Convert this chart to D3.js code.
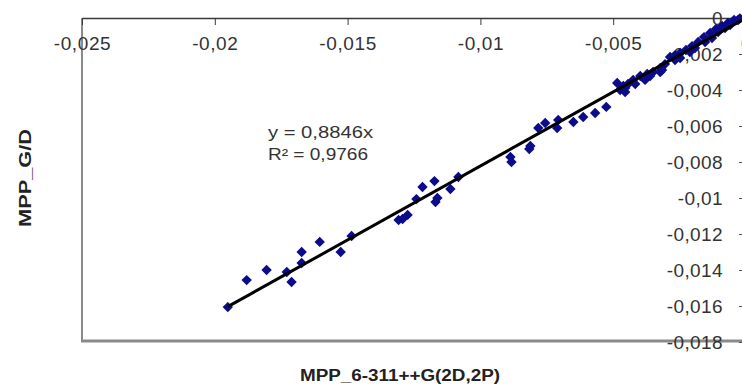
<!DOCTYPE html>
<html>
<head>
<meta charset="utf-8">
<script src="https://cdn.jsdelivr.net/npm/d3@7"></script>
<style>
  body { margin: 0; background: #fff; }
  svg { display: block; }
</style>
</head>
<body>
<svg></svg>
<script>
const width = 742;
const height = 388;

// values (x = MPP_6-311++G(2D,2P), y = MPP_G/D)
const xValues = [
  -0.01951, -0.01880, -0.01805, -0.01729, -0.01711, -0.01673, -0.01673, -0.01605, -0.01526, -0.01485,
  -0.01308, -0.01293, -0.01274, -0.01241, -0.01218, -0.01173, -0.01162, -0.01169, -0.01113, -0.01083,
  -0.00883, -0.00887, -0.00816, -0.00812, -0.00782, -0.00756, -0.00711, -0.00707, -0.00650, -0.00613,
  -0.00568, -0.00526, -0.00485, -0.00474, -0.00462, -0.00444, -0.00425, -0.00398, -0.00372, -0.00350,
  -0.00323, -0.00305, -0.00286, -0.00267, -0.00248, -0.00226, -0.00203, -0.00180, -0.00158, -0.00135,
  -0.00113, -0.00090, -0.00068, -0.00045, -0.00023, -0.00455, -0.00380, -0.00323, -0.00267, -0.00211,
  -0.00154, -0.00105, -0.00060, -0.00455, -0.00417, -0.00361, -0.00316, -0.00248, -0.00192, -0.00128,
  -0.00079, -0.00030
];
const yValues = [
  -0.01606, -0.01456, -0.01400, -0.01411, -0.01467, -0.01361, -0.01300, -0.01244, -0.01300, -0.01211,
  -0.01122, -0.01117, -0.01094, -0.01006, -0.00939, -0.00906, -0.01000, -0.01022, -0.00950, -0.00883,
  -0.00800, -0.00772, -0.00728, -0.00711, -0.00611, -0.00583, -0.00611, -0.00567, -0.00578, -0.00550,
  -0.00528, -0.00494, -0.00361, -0.00400, -0.00378, -0.00367, -0.00344, -0.00322, -0.00311, -0.00300,
  -0.00278, -0.00256, -0.00217, -0.00206, -0.00194, -0.00178, -0.00156, -0.00133, -0.00106, -0.00083,
  -0.00061, -0.00044, -0.00028, -0.00011, -0.00002, -0.00411, -0.00344, -0.00300, -0.00233, -0.00189,
  -0.00133, -0.00078, -0.00039, -0.00389, -0.00367, -0.00322, -0.00289, -0.00222, -0.00167, -0.00111,
  -0.00056, -0.00011
];

const xTicks = [-0.025, -0.02, -0.015, -0.01, -0.005, 0];
const yTicks = [0, -0.002, -0.004, -0.006, -0.008, -0.01, -0.012, -0.014, -0.016, -0.018];

// trendline as drawn in the picture (through the origin)
const trendSlopeDrawn = 0.822;
const trendRange = [-0.01951, 0];
const equationLines = ["y = 0,8846x", "R² = 0,9766"];

const xTitle = "MPP_6-311++G(2D,2P)";
const yTitle = "MPP_G/D";

const plot = { left: 82, top: 18, right: 746, bottom: 342 };

const x = d3.scaleLinear().domain([-0.025, 0]).range([plot.left, plot.right]);
const y = d3.scaleLinear().domain([-0.018, 0]).range([plot.bottom, plot.top]);

const fmt = d => d === 0 ? "0" : String(d).replace(".", ",");

const svg = d3.select('svg')
  .attr('width', width)
  .attr('height', height)
  .style('font-family', "'Liberation Sans', Arial, sans-serif");

svg.append('rect')
  .attr('width', width)
  .attr('height', height)
  .attr('fill', '#fff');

// frame: gray left and bottom edges
svg.append('line')
  .attr('x1', plot.left).attr('x2', plot.left)
  .attr('y1', plot.top).attr('y2', plot.bottom)
  .attr('stroke', '#8a8a8a').attr('stroke-width', 2);
svg.append('line')
  .attr('x1', plot.left - 1).attr('x2', width)
  .attr('y1', plot.bottom - 1).attr('y2', plot.bottom - 1)
  .attr('stroke', '#8a8a8a').attr('stroke-width', 3);

// x axis sits on top (y = 0), ticks pointing into the plot
const xAxis = svg.append('g')
  .attr('transform', `translate(0,${y(0)})`)
  .call(d3.axisBottom(x).tickValues(xTicks).tickSize(7).tickPadding(12).tickFormat(fmt).tickSizeOuter(0));
xAxis.select('.domain').attr('stroke', '#3a3a3a').attr('stroke-width', 1.5);
xAxis.selectAll('.tick line').attr('stroke', '#3a3a3a');
xAxis.selectAll('.tick text')
  .attr('font-size', 19)
  .attr('letter-spacing', 0.6)
  .attr('fill', '#333');

// y axis sits on the right (x = 0), labels to its left
const yAxis = svg.append('g')
  .attr('transform', `translate(${x(0)},0)`)
  .call(d3.axisLeft(y).tickValues(yTicks).tickSize(7).tickPadding(16).tickFormat(fmt).tickSizeOuter(0));
yAxis.select('.domain').attr('stroke', '#555').attr('stroke-width', 1.5);
yAxis.selectAll('.tick line').attr('stroke', '#555');
yAxis.selectAll('.tick text')
  .attr('font-size', 19)
  .attr('letter-spacing', 0.4)
  .attr('fill', '#333');

// data markers (diamonds)
const points = xValues.map((v, i) => ({ x: v, y: yValues[i] }));
svg.append('g')
  .selectAll('path')
  .data(points)
  .enter().append('path')
    .attr('d', d3.symbol().type(d3.symbolSquare).size(54))
    .attr('transform', d => `translate(${x(d.x)},${y(d.y)}) rotate(45)`)
    .attr('fill', '#0b0b8c');

// trendline
const trend = trendRange.map(v => ({ x: v, y: v * trendSlopeDrawn }));
svg.append('path')
  .datum(trend)
  .attr('d', d3.line().x(d => x(d.x)).y(d => y(d.y)))
  .attr('stroke', '#000')
  .attr('stroke-width', 3)
  .attr('fill', 'none');

// equation label
svg.append('g')
  .selectAll('text')
  .data(equationLines)
  .enter().append('text')
    .text(d => d)
    .attr('x', 268)
    .attr('y', (d, i) => 138 + i * 22)
    .attr('font-size', 16)
    .attr('fill', '#333')
    .attr('textLength', (d, i) => i === 0 ? 105 : 100)
    .attr('lengthAdjust', 'spacingAndGlyphs');

// axis titles
svg.append('text')
  .text(xTitle)
  .attr('x', 400)
  .attr('y', 381)
  .attr('text-anchor', 'middle')
  .attr('font-size', 16)
  .attr('font-weight', 'bold')
  .attr('fill', '#222')
  .attr('textLength', 200)
  .attr('lengthAdjust', 'spacingAndGlyphs');

svg.append('text')
  .text(yTitle)
  .attr('transform', 'translate(31,178) rotate(-90)')
  .attr('text-anchor', 'middle')
  .attr('font-size', 16)
  .attr('font-weight', 'bold')
  .attr('fill', '#222')
  .attr('textLength', 98)
  .attr('lengthAdjust', 'spacingAndGlyphs');
</script>
</body>
</html>
